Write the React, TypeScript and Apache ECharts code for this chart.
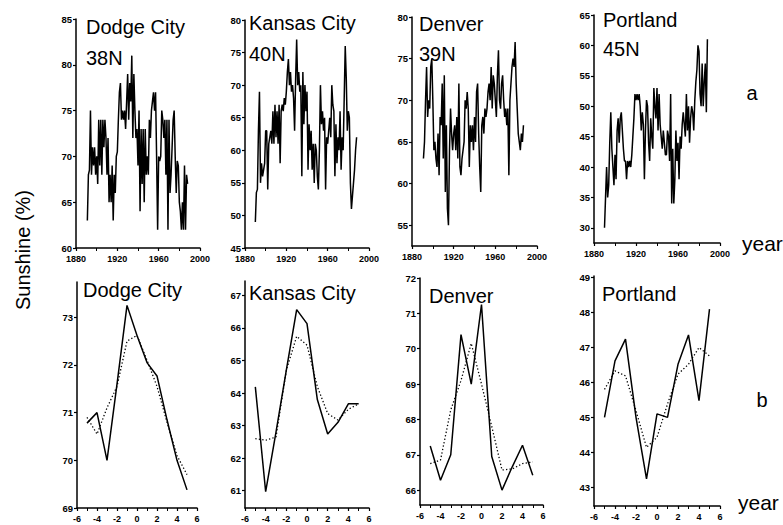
import React, { useEffect, useRef } from "react";
import * as echarts from "echarts";

const FONT = '"Liberation Sans", Arial, Helvetica, sans-serif';

// Station names and latitudes
const stations = ["Dodge City", "Kansas City", "Denver", "Portland"];
const latitudes = ["38N", "40N", "39N", "45N"];

// Annual sunshine (%) series, first year of each
const dodgeStart = 1891;
const dodgeAnnual = [
  63, 68, 68.5, 75, 68, 71, 69, 71, 68, 70,
  67, 74, 69, 74, 68, 74, 71, 74, 72, 68,
  72, 65, 68, 65, 69, 63, 68, 66, 70, 70.5,
  74, 77, 78, 74, 75, 74, 75, 73, 76, 79,
  74, 78, 76, 81, 72, 79, 75, 72, 73, 69,
  75, 64, 73, 67, 73, 65, 73, 68, 70, 68,
  74, 72, 75, 76, 77, 75, 77, 70, 62, 70,
  69.5, 70, 75, 74, 72, 74, 68, 74, 62, 74,
  66, 68, 71, 74, 75, 70, 66, 69.5, 69, 65,
  64, 62, 65, 62, 69, 62, 68, 67,
];

const kansasStart = 1890;
const kansasAnnual = [
  49, 53.5, 54, 63, 69, 55, 58, 56, 57, 58,
  63, 63, 54, 61, 62, 63, 61, 66, 61, 67,
  62, 66, 61, 67, 58, 66, 67, 66, 68, 67,
  69, 72, 74, 70, 72, 69, 70, 68, 63, 71,
  77, 70, 72, 69, 70, 56, 72, 64, 70, 66,
  69, 57, 64, 60, 63, 57, 61, 55, 61, 60,
  56, 54, 60, 70, 64, 66, 63, 65, 54, 62,
  61, 63, 65, 62, 70, 67, 66, 56, 64, 58,
  62, 60, 66, 57, 62, 60, 68, 76, 71, 63,
  66, 65, 55, 51, 53, 55, 57, 60, 62,
];

const denverStart = 1891;
const denverAnnual = [
  63, 65, 70, 74, 68, 70, 69, 74, 75, 70,
  64, 65, 63, 62, 66, 61, 68, 67, 72, 63,
  73, 59, 67, 57, 55, 64, 69, 66, 64, 66,
  67, 64, 68, 63, 72, 62, 61, 63, 64, 65,
  70, 69, 71, 69, 62, 67, 65, 67, 64, 68,
  65, 71, 72, 66, 62, 59, 67, 68, 66, 69,
  68, 69, 71, 72, 70, 74, 69, 73, 72, 70,
  68, 73, 76, 70, 69, 72, 73, 70, 68, 69,
  67, 69, 61, 70, 72, 74, 75, 74, 77, 72,
  69, 66, 65, 64, 66, 65, 67,
];

const portlandStart = 1890;
const portlandAnnual = [
  30, 35, 40, 35, 37, 44, 49, 43, 40, 37,
  42, 38, 46, 48, 44, 48, 49, 46, 43, 41,
  41, 38, 41, 40, 41, 40, 42, 45, 48, 52,
  51, 52, 51, 52, 50, 46, 49, 47, 38, 46,
  51, 50, 44, 41, 48, 45, 43, 53, 50, 48,
  53, 46, 52, 47, 45, 43, 46, 44, 42, 42,
  46, 45, 41, 52, 34, 43, 34, 38, 46, 41,
  44, 38, 45, 43, 47, 49, 47, 45, 52, 46,
  50, 44, 48, 50, 49, 46, 51, 54, 56, 60,
  59, 52, 50, 57, 50, 54, 57, 49, 61,
];

// Composite (lag in years)
const lags = [-5, -4, -3, -2, -1, 0, 1, 2, 3, 4, 5];
const dodgeSolid = [70.78, 71.0, 70.0, 71.6, 73.25, 72.62, 72.05, 71.77, 70.85, 70.0, 69.38];
const dodgeDotted = [70.9, 70.55, 71.1, 71.55, 72.5, 72.62, 72.1, 71.55, 70.8, 70.1, 69.7];
const kansasSolid = [64.19, 60.97, 62.8, 64.7, 66.56, 66.13, 63.8, 62.74, 63.1, 63.67, 63.67];
const kansasDotted = [62.6, 62.55, 62.65, 64.7, 65.74, 65.47, 64.2, 63.37, 63.17, 63.5, 63.67];
const denverSolid = [67.25, 66.28, 67.0, 70.4, 69.0, 71.25, 66.95, 66.0, 66.66, 67.27, 66.42];
const denverDotted = [66.75, 66.85, 68.27, 69.1, 70.15, 69.0, 67.8, 66.57, 66.6, 66.75, 66.8];
const portlandSolid = [45.0, 46.62, 47.24, 45.0, 43.24, 45.1, 45.0, 46.52, 47.36, 45.48, 48.1];
const portlandDotted = [45.8, 46.33, 46.19, 45.19, 44.14, 44.43, 45.38, 46.24, 46.52, 47.0, 46.76];

// Tick values
const dodgeTopTicks = [60, 65, 70, 75, 80, 85];
const kansasTopTicks = [45, 50, 55, 60, 65, 70, 75, 80];
const denverTopTicks = [55, 60, 65, 70, 75, 80];
const portlandTopTicks = [30, 35, 40, 45, 50, 55, 60, 65];
const dodgeBotTicks = [69, 70, 71, 72, 73];
const kansasBotTicks = [61, 62, 63, 64, 65, 66, 67];
const denverBotTicks = [66, 67, 68, 69, 70, 71, 72];
const portlandBotTicks = [43, 44, 45, 46, 47, 48, 49];

const annualSets = [
  { start: dodgeStart, values: dodgeAnnual },
  { start: kansasStart, values: kansasAnnual },
  { start: denverStart, values: denverAnnual },
  { start: portlandStart, values: portlandAnnual },
];
const compositeSets = [
  { solid: dodgeSolid, dotted: dodgeDotted },
  { solid: kansasSolid, dotted: kansasDotted },
  { solid: denverSolid, dotted: denverDotted },
  { solid: portlandSolid, dotted: portlandDotted },
];

// Layout (pixels) and axis ranges
const topPanels = [
  { left: 76, top: 19, width: 124, height: 229, min: 60, max: 85, ticks: dodgeTopTicks },
  { left: 245, top: 20, width: 124, height: 228, min: 45, max: 80, ticks: kansasTopTicks },
  { left: 412, top: 17, width: 125, height: 229, min: 52.5, max: 80, ticks: denverTopTicks },
  { left: 594, top: 15, width: 126, height: 228, min: 27.5, max: 65, ticks: portlandTopTicks },
];
const botPanels = [
  { left: 77, top: 282, width: 120, height: 226, min: 69, max: 73.74, ticks: dodgeBotTicks },
  { left: 245, top: 281, width: 124, height: 227, min: 60.47, max: 67.44, ticks: kansasBotTicks },
  { left: 420, top: 278, width: 123, height: 227, min: 65.58, max: 72, ticks: denverBotTicks },
  { left: 594, top: 276, width: 126, height: 230, min: 42.46, max: 49.05, ticks: portlandBotTicks },
];

const titlePos = [
  { top: { x: 86, y: 27 }, lat: { x: 86, y: 57.5 }, bot: { x: 83, y: 290 } },
  { top: { x: 249, y: 23 }, lat: { x: 249, y: 53.5 }, bot: { x: 249, y: 292.5 } },
  { top: { x: 419, y: 23.5 }, lat: { x: 419, y: 53.5 }, bot: { x: 429, y: 296 } },
  { top: { x: 603, y: 20 }, lat: { x: 603, y: 48.5 }, bot: { x: 602, y: 293.5 } },
];

const black = "#000";
const axisLabelStyle = { color: black, fontSize: 9, fontWeight: "bold" as const, fontFamily: FONT };

function makeYAxis(gridIndex: number, p: any) {
  return {
    type: "value",
    gridIndex,
    min: p.min,
    max: p.max,
    axisLine: { show: true, onZero: false, lineStyle: { color: black, width: 1.5 } },
    axisTick: { show: true, length: 3, customValues: p.ticks, lineStyle: { color: black, width: 1.2 } },
    axisLabel: {
      ...axisLabelStyle,
      fontSize: 9.5,
      customValues: p.ticks,
      margin: 4,
      formatter: (v: number) => String(v),
    },
    splitLine: { show: false },
  };
}

function makeXAxis(gridIndex: number, min: number, max: number, interval: number, minorSplit: number) {
  return {
    type: "value",
    gridIndex,
    min,
    max,
    interval,
    axisLine: { show: true, onZero: false, lineStyle: { color: black, width: 1.5 } },
    axisTick: { show: true, length: 3, lineStyle: { color: black, width: 1.2 } },
    minorTick: { show: true, splitNumber: minorSplit, length: 3, lineStyle: { color: black, width: 1 } },
    axisLabel: {
      ...axisLabelStyle,
      margin: 6,
      showMinLabel: true,
      showMaxLabel: true,
      formatter: (v: number) => String(v),
    },
    splitLine: { show: false },
    minorSplitLine: { show: false },
  };
}

export default function App() {
  const ref = useRef<HTMLDivElement>(null);

  useEffect(() => {
    if (!ref.current) return;
    const chart = echarts.init(ref.current, undefined, { renderer: "svg" });

    const grids: any[] = [];
    const xAxes: any[] = [];
    const yAxes: any[] = [];
    const series: any[] = [];

    topPanels.forEach((p, i) => {
      grids.push({ left: p.left, top: p.top, width: p.width, height: p.height, containLabel: false });
      xAxes.push(makeXAxis(i, 1880, 2000, 40, 2));
      yAxes.push(makeYAxis(i, p));
      const set = annualSets[i];
      series.push({
        type: "line",
        xAxisIndex: i,
        yAxisIndex: i,
        showSymbol: false,
        symbol: "none",
        lineStyle: { color: black, width: 1.5 },
        data: set.values.map((v, k) => [set.start + k, v]),
      });
    });

    botPanels.forEach((p, j) => {
      const i = j + 4;
      grids.push({ left: p.left, top: p.top, width: p.width, height: p.height, containLabel: false });
      xAxes.push(makeXAxis(i, -6, 6, 2, 2));
      yAxes.push(makeYAxis(i, p));
      const set = compositeSets[j];
      series.push({
        type: "line",
        xAxisIndex: i,
        yAxisIndex: i,
        showSymbol: false,
        symbol: "none",
        lineStyle: { color: black, width: 1.5 },
        data: lags.map((l, k) => [l, set.solid[k]]),
      });
      series.push({
        type: "line",
        xAxisIndex: i,
        yAxisIndex: i,
        showSymbol: false,
        symbol: "none",
        lineStyle: { color: black, width: 1.3, type: [1.3, 2.2] },
        data: lags.map((l, k) => [l, set.dotted[k]]),
      });
    });

    const titleFont = `20px ${FONT}`;
    const graphics: any[] = [];
    stations.forEach((name, i) => {
      const tp = titlePos[i];
      graphics.push({
        type: "text",
        x: tp.top.x,
        y: tp.top.y,
        style: { text: name, font: titleFont, fill: black, align: "left", verticalAlign: "middle" },
      });
      graphics.push({
        type: "text",
        x: tp.lat.x,
        y: tp.lat.y,
        style: { text: latitudes[i], font: titleFont, fill: black, align: "left", verticalAlign: "middle" },
      });
      graphics.push({
        type: "text",
        x: tp.bot.x,
        y: tp.bot.y,
        style: { text: name, font: titleFont, fill: black, align: "left", verticalAlign: "middle" },
      });
    });
    graphics.push({
      type: "text",
      x: 23,
      y: 250,
      rotation: Math.PI / 2,
      style: { text: "Sunshine (%)", font: titleFont, fill: black, align: "center", verticalAlign: "middle" },
    });
    graphics.push({
      type: "text",
      x: 752,
      y: 93,
      style: { text: "a", font: titleFont, fill: black, align: "center", verticalAlign: "middle" },
    });
    graphics.push({
      type: "text",
      x: 762,
      y: 400,
      style: { text: "b", font: titleFont, fill: black, align: "center", verticalAlign: "middle" },
    });
    graphics.push({
      type: "text",
      x: 742,
      y: 243,
      style: { text: "year", font: `21px ${FONT}`, fill: black, align: "left", verticalAlign: "middle" },
    });
    graphics.push({
      type: "text",
      x: 738,
      y: 502,
      style: { text: "year", font: `21px ${FONT}`, fill: black, align: "left", verticalAlign: "middle" },
    });

    chart.setOption({
      animation: false,
      backgroundColor: "#fff",
      grid: grids,
      xAxis: xAxes,
      yAxis: yAxes,
      series,
      graphic: graphics,
    });

    return () => chart.dispose();
  }, []);

  return (
    <div
      ref={ref}
      style={{ position: "absolute", left: 0, top: 0, width: 783, height: 525 }}
    />
  );
}
